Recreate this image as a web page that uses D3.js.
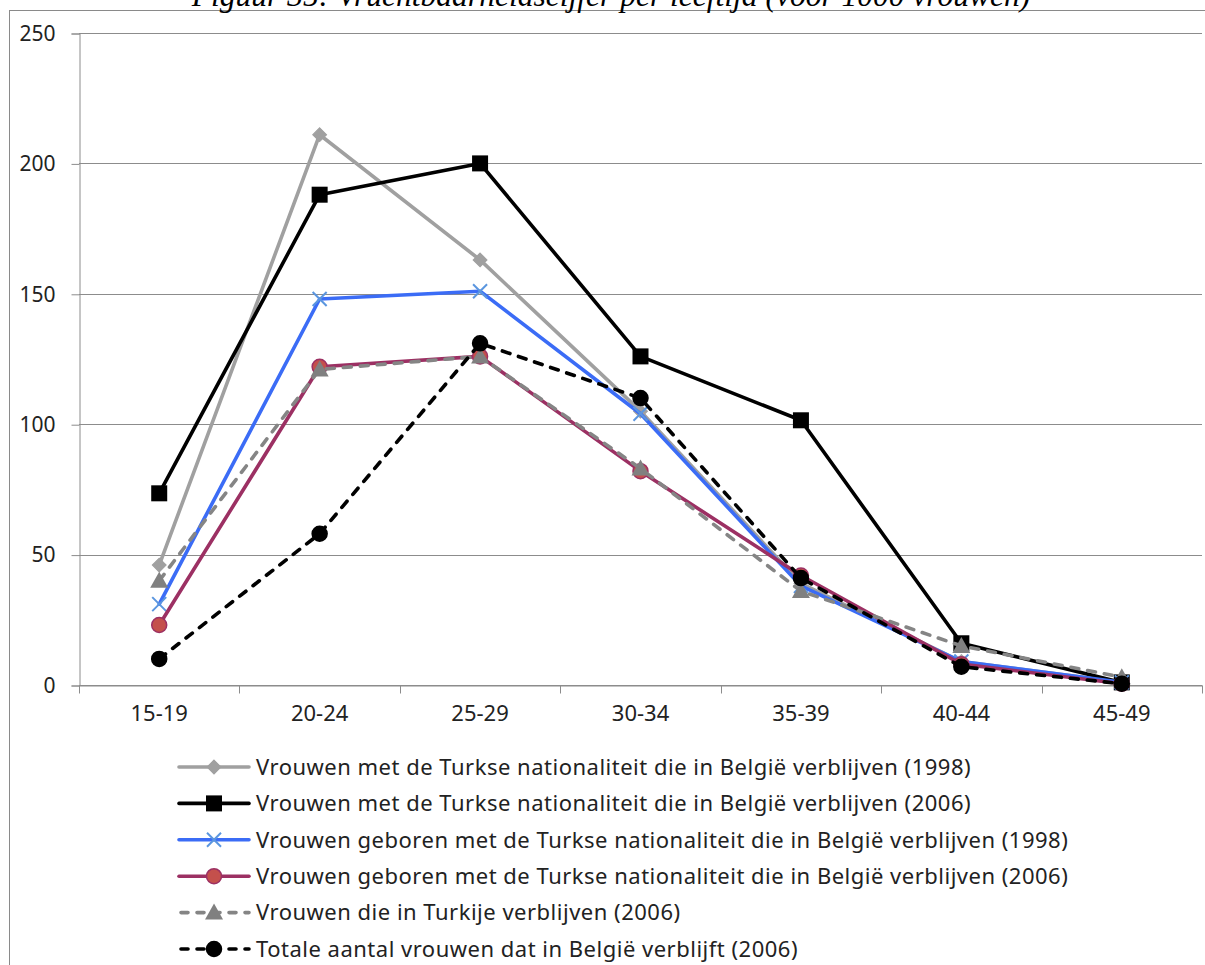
<!DOCTYPE html>
<html>
<head>
<meta charset="utf-8">
<script src="https://cdn.jsdelivr.net/npm/d3@7"></script>
<style>
  body { margin: 0; background: #fff; }
  svg { display: block; }
</style>
</head>
<body>
<script>
'use strict';
// categories and series
const ageGroups = ["15-19", "20-24", "25-29", "30-34", "35-39", "40-44", "45-49"];
const yTicks = [0, 50, 100, 150, 200, 250];

const nat1998 = [46, 211, 163, 105, 39, 9, 1];
const nat2006 = [73.5, 188, 200, 126, 101.5, 16, 1];
const born1998 = [31, 148, 151, 104, 38, 9, 1];
const born2006 = [23, 122, 126, 82, 42, 8, 0.5];
const turkey2006 = [40, 121, 126, 83, 36, 15, 3];
const belgium2006 = [10, 58, 131, 110, 41, 7, 0.5];

const seriesNames = [
  "Vrouwen met de Turkse nationaliteit die in België verblijven (1998)",
  "Vrouwen met de Turkse nationaliteit die in België verblijven (2006)",
  "Vrouwen geboren met de Turkse nationaliteit die in België verblijven (1998)",
  "Vrouwen geboren met de Turkse nationaliteit die in België verblijven (2006)",
  "Vrouwen die in Turkije verblijven (2006)",
  "Totale aantal vrouwen dat in België verblijft (2006)"
];

const titleText = "Figuur 35: Vruchtbaarheidscijfer per leeftijd (voor 1000 vrouwen)";

(function () {
  const W = 1205, H = 965;
  const font = "'Noto Sans', sans-serif";

  const series = [
    { name: seriesNames[0], values: nat1998, color: "#a0a0a0", marker: "diamond", fill: "#a0a0a0", mstroke: "#a0a0a0", dash: null },
    { name: seriesNames[1], values: nat2006, color: "#000000", marker: "square", fill: "#000000", mstroke: "#000000", dash: null },
    { name: seriesNames[2], values: born1998, color: "#3b6cf6", marker: "cross", fill: "none", mstroke: "#5b96df", dash: null },
    { name: seriesNames[3], values: born2006, color: "#9c3063", marker: "circle", fill: "#c4504c", mstroke: "#9c3063", dash: null },
    { name: seriesNames[4], values: turkey2006, color: "#858585", marker: "triangle", fill: "#808080", mstroke: "#808080", dash: "8,9" },
    { name: seriesNames[5], values: belgium2006, color: "#000000", marker: "circle", fill: "#000000", mstroke: "#000000", dash: "8,9" }
  ];

  const svg = d3.select("body").append("svg")
    .attr("width", W)
    .attr("height", H);

  // outer frame (runs off the right and bottom edges)
  svg.append("rect")
    .attr("x", 9.5).attr("y", 10.5)
    .attr("width", 1400).attr("height", 1200)
    .attr("fill", "none")
    .attr("stroke", "#8a8a8a");

  // title, mostly cut off at the top like in the source
  svg.append("text")
    .attr("x", 611).attr("y", 6)
    .attr("text-anchor", "middle")
    .style("font-family", "'Liberation Serif', 'Times New Roman', serif")
    .style("font-style", "italic")
    .style("font-size", "31.5px")
    .text(titleText);

  const plot = { left: 79, right: 1202, top: 33, bottom: 685 };

  const x = d3.scaleBand()
    .domain(ageGroups)
    .range([plot.left, plot.right])
    .padding(0);
  const cx = (d) => x(d) + x.bandwidth() / 2;

  const y = d3.scaleLinear()
    .domain([0, 250])
    .range([plot.bottom, plot.top]);

  // gridlines
  svg.append("g")
    .selectAll("line")
    .data(yTicks)
    .enter()
    .append("line")
    .attr("x1", plot.left).attr("x2", plot.right)
    .attr("y1", (d) => Math.round(y(d)) + 0.5)
    .attr("y2", (d) => Math.round(y(d)) + 0.5)
    .attr("stroke", "#8c8c8c")
    .attr("stroke-width", 1);

  // y axis
  const yAxis = d3.axisLeft(y).tickValues(yTicks).tickSize(8).tickPadding(16);
  const gy = svg.append("g")
    .attr("transform", "translate(" + (plot.left + 0.5) + ",0.5)")
    .call(yAxis);
  gy.select(".domain").attr("stroke", "#8c8c8c");
  gy.selectAll(".tick line").attr("stroke", "#8c8c8c");
  gy.selectAll(".tick text")
    .style("font-family", font)
    .style("font-size", "21px")
    .attr("fill", "#222");

  // x axis: labels centred in bands, tick marks on band edges
  const xAxis = d3.axisBottom(x).tickSize(0).tickPadding(20);
  const gx = svg.append("g")
    .attr("transform", "translate(0," + (plot.bottom + 0.5) + ")")
    .call(xAxis);
  gx.select(".domain").attr("stroke", "#8c8c8c");
  gx.selectAll(".tick text")
    .style("font-family", font)
    .style("font-size", "22px")
    .attr("fill", "#222");
  const edges = ageGroups.map((d) => x(d)).concat([plot.right]);
  gx.selectAll(".edge")
    .data(edges)
    .enter()
    .append("line")
    .attr("class", "edge")
    .attr("x1", (d) => Math.round(d) + 0.5)
    .attr("x2", (d) => Math.round(d) + 0.5)
    .attr("y1", 0).attr("y2", 8)
    .attr("stroke", "#8c8c8c");

  function drawMarker(g, type, px, py, s) {
    if (type === "diamond") {
      g.append("path")
        .attr("d", d3.symbol().type(d3.symbolDiamond2).size(110)())
        .attr("transform", "translate(" + px + "," + py + ") scale(1.05)")
        .attr("fill", s.fill).attr("stroke", s.mstroke);
    } else if (type === "square") {
      g.append("rect")
        .attr("x", px - 8).attr("y", py - 8)
        .attr("width", 16).attr("height", 16)
        .attr("fill", s.fill);
    } else if (type === "cross") {
      g.append("path")
        .attr("d", "M" + (px - 7) + "," + (py - 7) + "L" + (px + 7) + "," + (py + 7) +
          "M" + (px - 7) + "," + (py + 7) + "L" + (px + 7) + "," + (py - 7))
        .attr("stroke", s.mstroke).attr("stroke-width", 2).attr("fill", "none");
    } else if (type === "circle") {
      g.append("circle")
        .attr("cx", px).attr("cy", py).attr("r", 7.5)
        .attr("fill", s.fill).attr("stroke", s.mstroke).attr("stroke-width", 1.5);
    } else if (type === "triangle") {
      g.append("path")
        .attr("d", "M" + px + "," + (py - 9) + "L" + (px + 9) + "," + (py + 7) + "L" + (px - 9) + "," + (py + 7) + "Z")
        .attr("fill", s.fill);
    }
  }

  const line = d3.line()
    .x((d, i) => cx(ageGroups[i]))
    .y((d) => y(d));

  series.forEach((s) => {
    const g = svg.append("g");
    g.append("path")
      .datum(s.values)
      .attr("d", line)
      .attr("fill", "none")
      .attr("stroke", s.color)
      .attr("stroke-width", 3.6)
      .attr("stroke-linejoin", "round")
      .attr("stroke-linecap", "round")
      .attr("stroke-dasharray", s.dash);
    s.values.forEach((v, i) => drawMarker(g, s.marker, cx(ageGroups[i]), y(v), s));
  });

  // legend
  const legendX = 179, legendY = 767, rowH = 36.4;
  series.forEach((s, i) => {
    const ly = legendY + i * rowH;
    const g = svg.append("g");
    g.append("line")
      .attr("x1", legendX).attr("x2", legendX + 70)
      .attr("y1", ly).attr("y2", ly)
      .attr("stroke", s.color)
      .attr("stroke-width", 3.6)
      .attr("stroke-linecap", "round")
      .attr("stroke-dasharray", s.dash ? "7,9" : null)
      .attr("stroke-dashoffset", s.dash ? -2 : null);
    drawMarker(g, s.marker, legendX + 35, ly, s);
    g.append("text")
      .attr("x", 256).attr("y", ly)
      .attr("dy", "0.35em")
      .style("font-family", font)
      .style("font-size", "22px")
      .style("letter-spacing", "0.5px")
      .attr("fill", "#222")
      .text(s.name);
  });
})();
</script>
</body>
</html>
